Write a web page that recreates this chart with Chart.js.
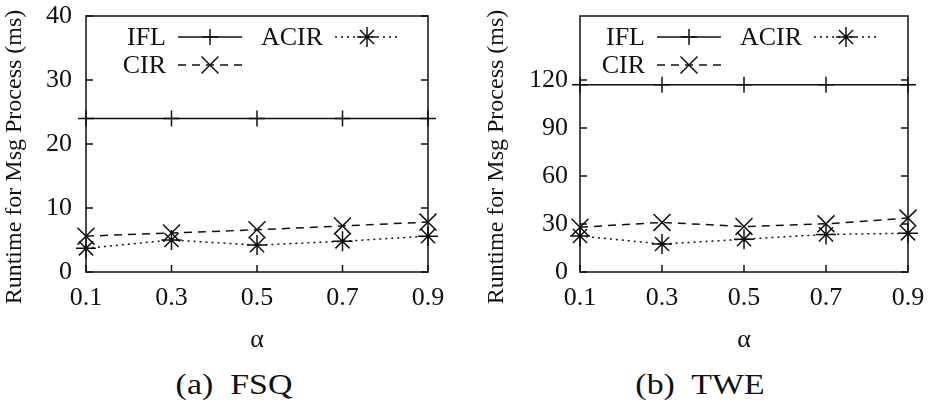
<!DOCTYPE html>
<html>
<head>
<meta charset="utf-8">
<script src="https://cdn.jsdelivr.net/npm/chart.js@4"></script>
<style>
    body{margin:0;background:#fff;width:933px;height:405px;position:relative;overflow:hidden;}
    .panel{position:absolute;top:0;height:360px;}
    .caption{position:absolute;top:369px;width:300px;font-family:"Liberation Serif",serif;font-size:30px;line-height:30px;
             color:#111;text-align:center;white-space:pre;transform:scaleX(1.13);transform-origin:center;}
</style>
</head>
<body>
<div class="panel" style="left:0;width:466px;"><canvas id="fsqChart"></canvas></div>
<div class="panel" style="left:466px;width:467px;"><canvas id="tweChart"></canvas></div>
<div class="caption" style="left:84px;">(a)  FSQ</div>
<div class="caption" style="left:550px;">(b)  TWE</div>
<script>
// alpha values on the x axis
const alphaLabels = ['0.1','0.3','0.5','0.7','0.9'];

// FSQ runtimes (ms)
const fsqIFL  = [24, 24, 24, 24, 24];
const fsqCIR  = [5.6, 6.1, 6.6, 7.2, 7.8];
const fsqACIR = [3.7, 5.0, 4.2, 4.8, 5.6];
const fsqTicks = [0, 10, 20, 30, 40];

// TWE runtimes (ms)
const tweIFL  = [117, 117, 117, 117, 117];
const tweCIR  = [28, 31, 28.4, 30.1, 33.7];
const tweACIR = [22.5, 17.5, 20.5, 23.5, 24.2];
const tweTicks = [0, 30, 60, 90, 120];

const serif = '"Liberation Serif", "Times New Roman", serif';
const ink = '#111';

// box around the plot + inward tick marks (gnuplot look), plus the y title
const framePlugin = {
    id: 'frame',
    afterDraw(chart, args, opts){
        const {ctx, chartArea:a, scales} = chart;
        ctx.save();
        ctx.strokeStyle = ink;
        ctx.lineWidth = 1.5;
        ctx.strokeRect(a.left, a.top, a.right-a.left, a.bottom-a.top);
        ctx.beginPath();
        scales.y.ticks.forEach(t=>{
            const y = scales.y.getPixelForValue(t.value);
            ctx.moveTo(a.left, y); ctx.lineTo(a.left+7, y);
            ctx.moveTo(a.right, y); ctx.lineTo(a.right-7, y);
        });
        scales.x.ticks.forEach((t,i)=>{
            const x = scales.x.getPixelForTick(i);
            ctx.moveTo(x, a.bottom); ctx.lineTo(x, a.bottom-7);
        });
        ctx.stroke();

        // rotated y title, sits a bit lower than the axis centre
        ctx.translate(opts.titleX, opts.titleY);
        ctx.rotate(-Math.PI/2);
        ctx.font = '24px ' + serif;
        ctx.fillStyle = ink;
        ctx.textAlign = 'center';
        ctx.textBaseline = 'middle';
        ctx.fillText(opts.title, 0, 0);
        ctx.restore();
    }
};

// key drawn inside the plot: label on the left, sample on the right
const keyPlugin = {
    id: 'key',
    afterDraw(chart, args, opts){
        const {ctx, chartArea:a} = chart;
        ctx.save();
        ctx.font = '26px ' + serif;
        ctx.fillStyle = ink;
        ctx.textAlign = 'right';
        ctx.textBaseline = 'middle';
        opts.slots.forEach(s=>{
            const ds = chart.data.datasets[s.index];
            const x0 = a.left + opts.dx + s.x;
            const y = a.top + s.y;
            ctx.fillText(ds.label, x0, y+1);
            ctx.strokeStyle = ink;
            ctx.lineWidth = 1.5;
            ctx.setLineDash(ds.borderDash || []);
            ctx.beginPath();
            ctx.moveTo(x0+12, y); ctx.lineTo(x0+76, y);
            ctx.stroke();
            ctx.setLineDash([]);
            Chart.helpers.drawPoint(ctx, {pointStyle:ds.pointStyle, radius:ds.pointRadius, rotation:0, borderWidth:1.5}, x0+44, y);
        });
        ctx.restore();
    }
};

function series(label, data, style, radius, dash){
    return {
        label, data,
        borderColor: ink, backgroundColor: ink,
        borderWidth: 1.5, borderDash: dash,
        pointStyle: style, pointRadius: radius,
        pointBorderColor: ink, pointBorderWidth: 1.5,
        fill: false, tension: 0, clip: false
    };
}

function makePanel(id, ifl, cir, acir, yTicks, yMax, axisW, rightPad, labelPad, titleX, keyDx){
    return new Chart(document.getElementById(id), {
        type: 'line',
        data: {
            labels: alphaLabels,
            datasets: [
                series('IFL', ifl, 'cross', 8, []),
                series('CIR', cir, 'crossRot', 12, [8, 6]),
                series('ACIR', acir, 'star', 10, [2, 4])
            ]
        },
        options: {
            responsive: true, maintainAspectRatio: false, animation: false,
            layout: {padding: {top: 16, right: rightPad, left: 0, bottom: 0}},
            plugins: {
                legend: {display: false}, tooltip: {enabled: false},
                frame: {title: 'Runtime for Msg Process (ms)', titleX: titleX, titleY: 157},
                key: {dx: keyDx, slots: [
                    {index: 0, x: 80, y: 21},
                    {index: 2, x: 237, y: 21},
                    {index: 1, x: 80, y: 49}
                ]}
            },
            scales: {
                x: {
                    type: 'category', offset: false,
                    grid: {display: false, drawTicks: false}, border: {display: false},
                    ticks: {font: {family: serif, size: 26}, color: ink, padding: 11, maxRotation: 0, autoSkip: false},
                    title: {display: true, text: 'α', font: {family: serif, size: 26}, color: ink, padding: {top: 0, bottom: 4}},
                    afterFit(s){ s.height = 88; s.paddingLeft = 0; s.paddingRight = 0; }
                },
                y: {
                    min: 0, max: yMax,
                    grid: {display: false, drawTicks: false}, border: {display: false},
                    ticks: {font: {family: serif, size: 26}, color: ink, padding: labelPad},
                    afterBuildTicks(s){ s.ticks = yTicks.map(v=>({value: v})); },
                    afterFit(s){ s.width = axisW; s.paddingTop = 0; s.paddingBottom = 0; }
                }
            }
        },
        plugins: [framePlugin, keyPlugin]
    });
}

document.addEventListener("DOMContentLoaded", ()=>{
    makePanel('fsqChart', fsqIFL, fsqCIR, fsqACIR, fsqTicks, 40, 86, 38, 14, 15, 0);
    makePanel('tweChart', tweIFL, tweCIR, tweACIR, tweTicks, 160, 114, 25, 12, 31, -15);
});
</script>
</body>
</html>
